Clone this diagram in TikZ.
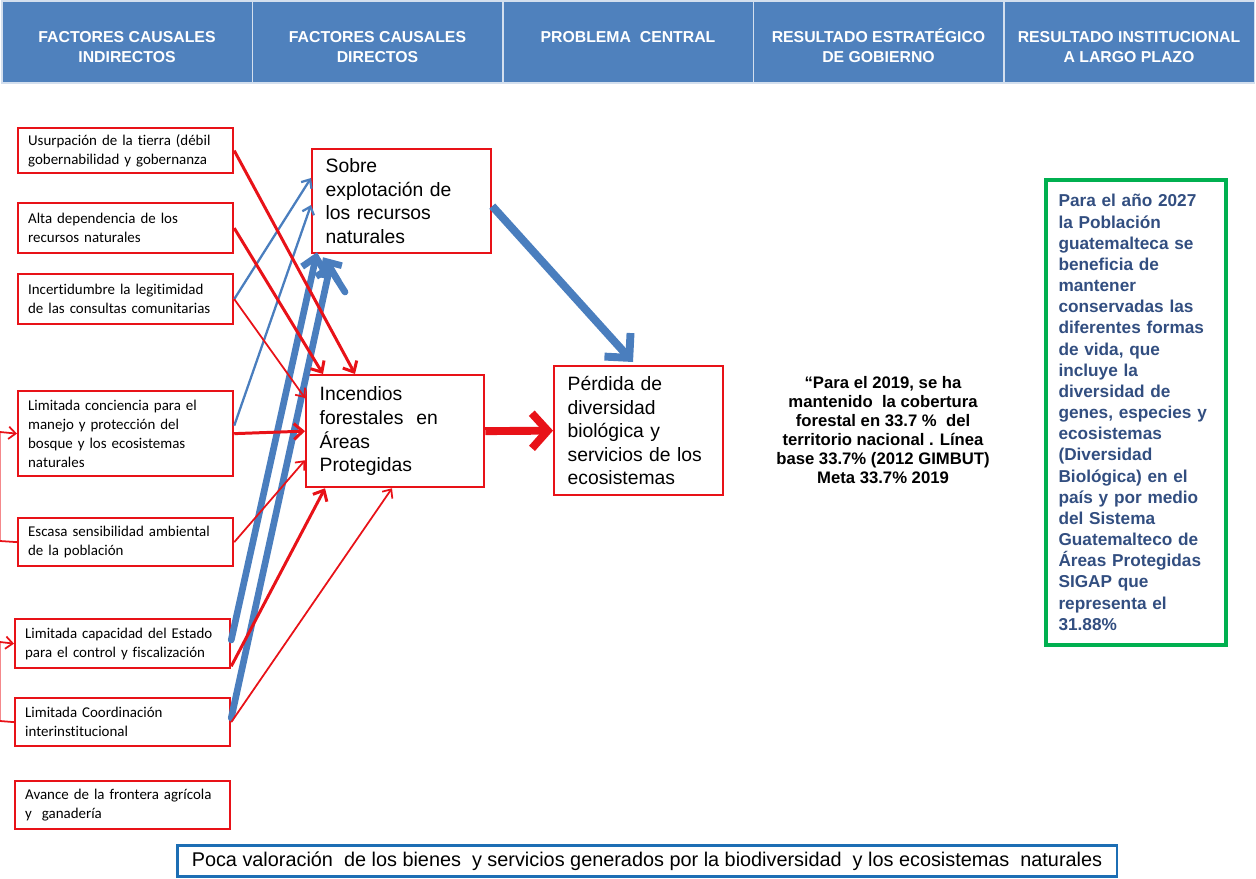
\documentclass[tikz,border=0pt]{standalone}
\usepackage{fontspec}
\setmainfont{Liberation Sans}
\newfontfamily\calibri[Ligatures=NoCommon]{Carlito}
\usetikzlibrary{arrows.meta,calc}

\definecolor{hdrblue}{RGB}{79,129,189}
\definecolor{boxred}{RGB}{232,18,24}
\definecolor{arrblue}{RGB}{74,126,190}
\definecolor{resgreen}{RGB}{0,176,80}
\definecolor{restext}{RGB}{50,78,128}
\definecolor{basblue}{RGB}{28,110,180}

\begin{document}
\begin{tikzpicture}[
  x=0.02cm, y=-0.02cm,
  celda/.style={draw=white!75!hdrblue, line width=1pt, fill=hdrblue},
  hdr/.style={text=white, align=center, font=\fontsize{9}{11.3}\selectfont\bfseries},
  causa/.style={draw=boxred, line width=1.3pt, fill=white, anchor=north west, align=left,
    inner xsep=5pt, text width=3.9cm, minimum width=4.3cm, font=\calibri\fontsize{8.5}{10.8}\selectfont},
  directo/.style={draw=boxred, line width=1.3pt, fill=white, anchor=north west, align=left,
    inner xsep=0.27cm, font=\fontsize{11}{13.3}\selectfont},
  rojofino/.style={draw=boxred, line width=1pt, -{Straight Barb[length=4pt,width=7pt]}},
  rojomedio/.style={draw=boxred, line width=1.7pt, -{Straight Barb[length=5pt,width=9pt]}},
  rojogrueso/.style={draw=boxred, line width=4.5pt, -{Straight Barb[length=9pt,width=20pt]}},
  azulfino/.style={draw=arrblue, line width=1.3pt, -{Straight Barb[length=4pt,width=7pt]}},
  azulgrueso/.style={draw=arrblue, line width=3.8pt, line cap=round, -{Straight Barb[length=7pt,width=13pt]}},
  azulmayor/.style={draw=arrblue, line width=4.5pt, -{Straight Barb[length=10pt,width=20pt]}}
]
\useasboundingbox (0,0) rectangle (1256,878);

% encabezado
\foreach \txt [count=\i] in {{FACTORES CAUSALES\\INDIRECTOS}, {FACTORES CAUSALES\\DIRECTOS},
    {PROBLEMA\ \ CENTRAL\\\mbox{}}, {RESULTADO ESTRATÉGICO\\DE GOBIERNO},
    {RESULTADO INSTITUCIONAL\\A LARGO PLAZO}}
{
  \draw[celda] ({2+250.5*(\i-1)},1) rectangle ({252.5+250.5*(\i-1)},83);
  \node[hdr] (h\i) at ({127+250.5*(\i-1)},45) {\rule{0pt}{9pt}\txt};
}

% factores causales indirectos
\node[causa, minimum height=0.9cm] (c1) at (17,127) {Usurpación de la tierra (débil\\gobernabilidad y gobernanza};
\node[causa, minimum height=1.0cm] (c2) at (17,202) {Alta dependencia de los\\recursos naturales};
\node[causa, minimum height=1.0cm] (c3) at (17,273) {Incertidumbre la legitimidad\\de las consultas comunitarias};
\node[causa, minimum height=1.7cm] (c4) at (17,390) {Limitada conciencia para el\\manejo y protección del\\bosque y los ecosistemas\\naturales};
\node[causa, minimum height=0.96cm] (c5) at (17,517) {Escasa sensibilidad ambiental\\de la población};
\node[causa, minimum height=0.98cm] (c6) at (14,618) {Limitada capacidad del Estado\\para el control y fiscalización};
\node[causa, minimum height=0.96cm] (c7) at (14,697) {Limitada Coordinación\\interinstitucional};
\node[causa, minimum height=0.96cm] (c8) at (14,780) {Avance de la frontera agrícola\\y\ \ ganadería};

% factores causales directos y problema central
\node[directo, text width=3.04cm, minimum width=3.58cm, minimum height=2.08cm] (sob) at (311,148)
  {Sobre\\explotación de\\los recursos\\naturales};
\node[directo, text width=3.02cm, minimum width=3.56cm, minimum height=2.24cm,
  font=\fontsize{11}{13.6}\selectfont] (inc) at (305,374)
  {Incendios\\forestales\ \ en\\Áreas\\Protegidas};
\node[directo, text width=2.84cm, minimum width=3.38cm, minimum height=2.58cm] (perd) at (553,365)
  {Pérdida de\\diversidad\\biológica y\\servicios de los\\ecosistemas};

% resultado estrategico
\node[align=center, font=\fontsize{9.5}{10.9}\selectfont\bfseries] (meta) at (883,430)
  {“Para el 2019, se ha\\mantenido\ \ la cobertura\\forestal en 33.7 \%\ \ del\\territorio nacional . Línea\\base 33.7\% (2012 GIMBUT)\\Meta 33.7\% 2019};

% resultado institucional
\node[draw=resgreen, line width=2.3pt, anchor=north west, align=left, text=restext,
  inner xsep=0.25cm, text width=3.1cm, minimum width=3.6cm, minimum height=9.3cm,
  font=\fontsize{9.8}{12.05}\selectfont\bfseries] (res) at (1044,178)
  {Para el año 2027\\la Población\\guatemalteca se\\beneficia de\\mantener\\conservadas las\\diferentes formas\\de vida, que\\incluye la\\diversidad de\\genes, especies y\\ecosistemas\\(Diversidad\\Biológica) en el\\país y por medio\\del Sistema\\Guatemalteco de\\Áreas Protegidas\\SIGAP que\\representa el\\31.88\%};

% causa de fondo
\node[draw=basblue, line width=1.6pt, minimum width=18.8cm, minimum height=0.62cm,
  font=\fontsize{11.3}{13}\selectfont] (fondo) at (647,861)
  {Poca valoración\ \ de los bienes\ \ y servicios generados por la biodiversidad\ \ y los ecosistemas\ \ naturales};

% conectores que entran por la izquierda
\coordinate (e4) at (0,432);
\coordinate (e5) at (0,541);
\coordinate (e6) at (0,642);
\coordinate (e7) at (0,721);
\draw[boxred!50, line width=0.5pt] (e4) -- (e5);
\draw[boxred!50, line width=0.5pt] (e6) -- (e7);
\draw[rojofino] (e4) -- (c4.west);
\draw[boxred, line width=1pt] (e5) -- (c5.west);
\draw[rojofino] (e6) -- (c6.west);
\draw[boxred, line width=1pt] (e7) -- (c7.west);

% flechas azules hacia la sobre explotacion
\coordinate (cola) at (345,292);
\draw[azulfino] (c3.east) -- ($(sob.north west)+(0,30)$);
\draw[azulfino] ($(c4.east)+(0,-8)$) -- ($(sob.north west)+(0,57)$);
\draw[azulgrueso] ($(c6.north east)+(0,22)$) -- ($(sob.south west)+(6,-2)$);
\draw[azulgrueso] ($(c7.north east)+(0,21)$) -- ($(sob.south west)+(20,8)$);
\draw[azulgrueso] (cola) -- ($(sob.south west)+(12,3)$);

% flechas rojas hacia los incendios
\draw[rojomedio] (c1.east) -- ($(inc.north west)+(50,0)$);
\draw[rojomedio] (c2.east) -- ($(inc.north west)+(18,0)$);
\draw[rojofino] (c3.east) -- ($(inc.north west)+(0,24)$);
\draw[rojomedio] (c4.east) -- (inc.west);
\draw[rojofino] (c5.east) -- ($(inc.south west)+(0,-28)$);
\draw[rojomedio] ($(c6.south east)+(0,-3)$) -- ($(inc.south west)+(20,0)$);
\draw[rojofino] (c7.east) -- ($(inc.south west)+(87,0)$);

% hacia el problema central
\draw[rojogrueso] (inc.east) -- (perd.west);
\draw[azulmayor] ($(sob.east)+(0,5)$) -- ($(perd.north west)+(80,-3)$);

\end{tikzpicture}
\end{document}
